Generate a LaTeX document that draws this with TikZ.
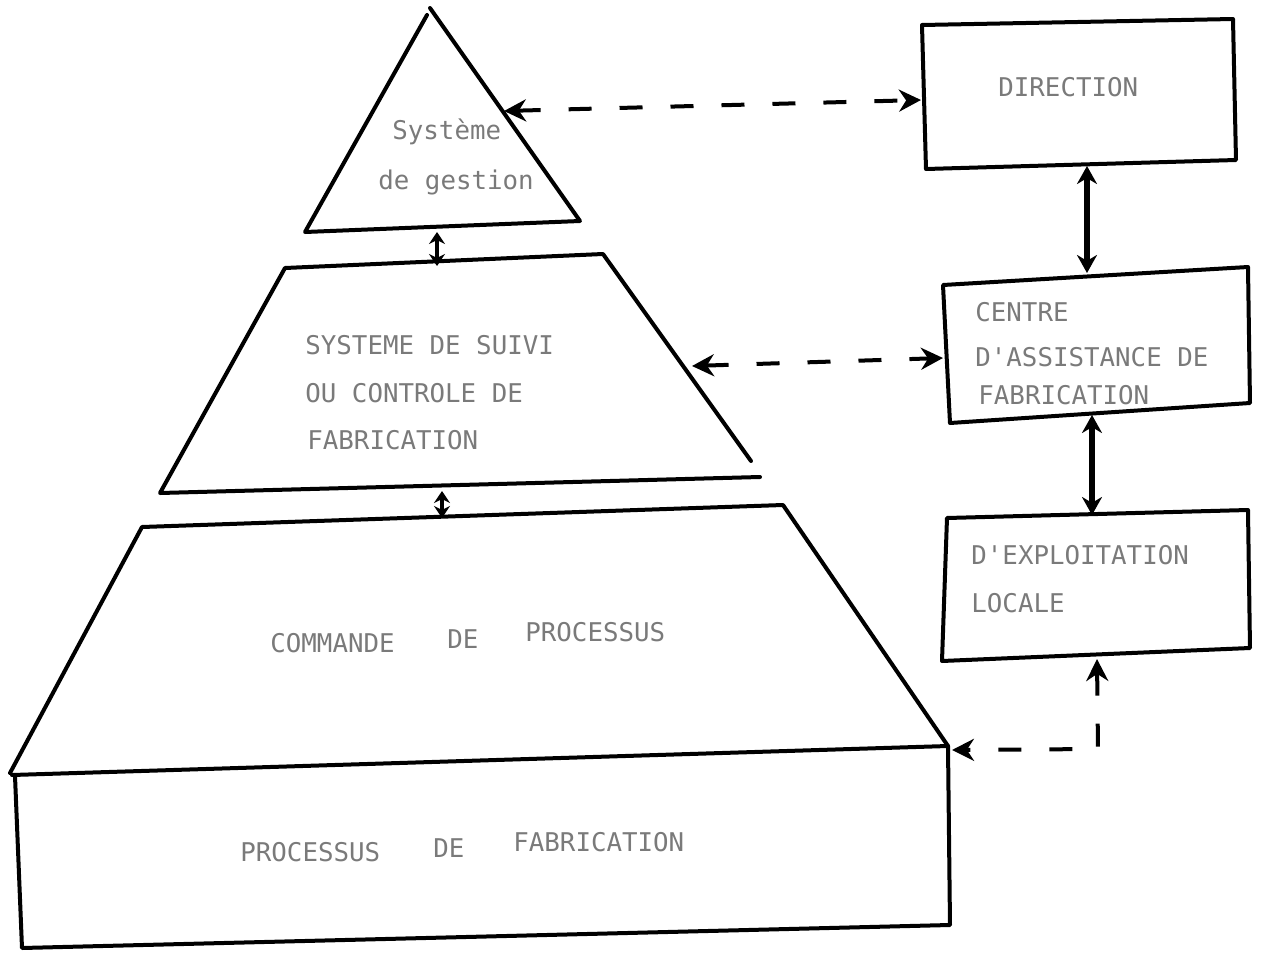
\documentclass[tikz,border=0pt]{standalone}
\usepackage{fontspec}
\newfontfamily\tw{DejaVu Sans Mono}
\usetikzlibrary{arrows.meta}
\begin{document}
\begin{tikzpicture}[x=0.5pt,y=-0.5pt,
  shapeline/.style={line width=2pt, line join=round, line cap=round},
  lbl/.style={text=black!52, font=\tw\fontsize{12.9}{16}\selectfont, inner sep=0pt, anchor=west},
  dlink/.style={line width=2pt, dash pattern=on 11.5pt off 14pt, {Stealth[length=11pt,width=11pt]}-{Stealth[length=11pt,width=11pt]}},
  slink/.style={line width=2.6pt, {Stealth[length=9pt,width=10pt]}-{Stealth[length=9pt,width=10pt]}},
  shortlink/.style={line width=2.4pt, {Stealth[length=6pt,width=8pt]}-{Stealth[length=6pt,width=8pt]}}]
\useasboundingbox (0,0) rectangle (1266,954);

% ---------- pyramid shapes ----------
% Système de gestion (triangle)
\coordinate (triApex) at (430,8);
\coordinate (triBL) at (305,232);
\coordinate (triBR) at (580,221);
\draw[shapeline] (427,15) -- (triBL) -- (triBR) -- (triApex);

% Système de suivi (trapezium, open corner on the right)
\coordinate (suTL) at (285,268);
\coordinate (suTR) at (603,254);
\coordinate (suRE) at (751,461);
\coordinate (suBL) at (160,493);
\coordinate (suBR) at (760,477);
\draw[shapeline] (suRE) -- (suTR) -- (suTL) -- (suBL) -- (suBR);

% Commande de processus (trapezium)
\coordinate (coTL) at (142,527);
\coordinate (coTR) at (783,505);
\coordinate (coBR) at (948,746);
\coordinate (coBL) at (10,773);
\draw[shapeline] (coBL) -- (coTL) -- (coTR) -- (coBR);

% Processus de fabrication (box)
\coordinate (prTL) at (12,775);
\coordinate (prBL) at (22,948);
\coordinate (prBR) at (950,925);
\draw[shapeline] (prTL) -- (coBR) -- (prBR) -- (prBL) -- (15,776);

% ---------- right-hand boxes ----------
\draw[shapeline] (922,25) -- (1233,19) -- (1236,160) -- (926,169) -- cycle;
\draw[shapeline] (943,285) -- (1248,267) -- (1250,403) -- (950,423) -- cycle;
\draw[shapeline] (947,518) -- (1248,510) -- (1250,648) -- (942,661) -- cycle;

% ---------- texts ----------
\node[lbl] (tS1) at (392,132) {Syst\`eme};
\node[lbl] (tS2) at (378,182) {de gestion};

\node[lbl] (tU1) at (305,345) {SYSTEME DE SUIVI};
\node[lbl] (tU2) at (305,393) {OU CONTROLE DE};
\node[lbl] (tU3) at (307,440) {FABRICATION};

\node[lbl] (tC1) at (270,643) {COMMANDE};
\node[lbl] (tC2) at (447,639) {DE};
\node[lbl] (tC3) at (525,632) {PROCESSUS};

\node[lbl] (tP1) at (240,852) {PROCESSUS};
\node[lbl] (tP2) at (433,848) {DE};
\node[lbl] (tP3) at (513,842) {FABRICATION};

\node[lbl] (tD) at (998,87) {DIRECTION};

\node[lbl] (tA1) at (975,312) {CENTRE};
\node[lbl] (tA2) at (975,357) {D'ASSISTANCE DE};
\node[lbl] (tA3) at (978,395) {FABRICATION};

\node[lbl] (tE1) at (971,555) {D'EXPLOITATION};
\node[lbl] (tE2) at (971,603) {LOCALE};

% ---------- connection points ----------
\coordinate (gesR) at (504,111);
\coordinate (dirL) at (921,100);
\coordinate (gesB) at (437,232);
\coordinate (suiT) at (437,266);
\coordinate (suiB) at (442,491);
\coordinate (comT) at (442,518);
\coordinate (suiR) at (692,366);
\coordinate (cenL) at (943,358);
\coordinate (dirB) at (1087,166);
\coordinate (cenT) at (1087,273);
\coordinate (cenB) at (1092,415);
\coordinate (expT) at (1092,515);
\coordinate (expB) at (1097,659);
\coordinate (bend) at (1098,749);
\coordinate (comR) at (952,750);

% ---------- connectors ----------
\draw[dlink] (gesR) -- (dirL);
\draw[dlink] (suiR) -- (cenL);
\draw[shortlink] (gesB) -- (suiT);
\draw[shortlink] (suiB) -- (comT);
\draw[slink] (dirB) -- (cenT);
\draw[slink] (cenB) -- (expT);
\draw[dlink] (expB) -- (bend) -- (comR);
\end{tikzpicture}
\end{document}
